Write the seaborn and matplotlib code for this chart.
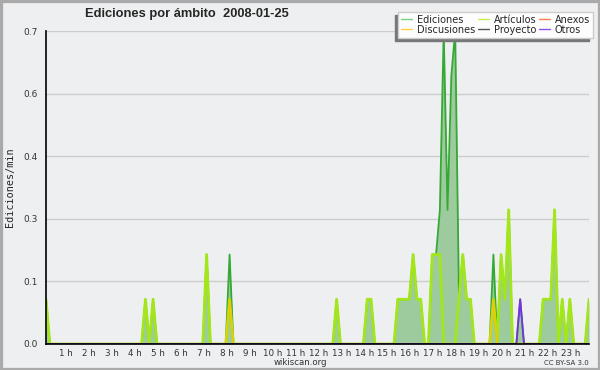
import numpy as np
import pandas as pd
import matplotlib
matplotlib.use('Agg')
import matplotlib.pyplot as plt
import seaborn as sns
from matplotlib.lines import Line2D
from matplotlib.patches import Rectangle
from matplotlib.ticker import FixedLocator, MultipleLocator, AutoMinorLocator

# tramos de 10 minutos, el primero a las 00:08, el ultimo a las 23:48
slot_minutes = 8 + 10 * np.arange(143)

# ediciones/min por tramo (solo los tramos distintos de cero)
ediciones = {0: 0.1, 26: 0.1, 28: 0.1, 42: 0.2, 48: 0.2, 76: 0.1, 84: 0.1, 85: 0.1,
             92: 0.1, 93: 0.1, 94: 0.1, 95: 0.1, 96: 0.2, 97: 0.1, 98: 0.1,
             101: 0.2, 102: 0.2, 103: 0.3, 104: 0.7, 105: 0.3, 106: 0.6, 107: 0.7,
             108: 0.1, 109: 0.2, 110: 0.1, 111: 0.1,
             117: 0.2, 119: 0.2, 120: 0.1, 121: 0.3, 124: 0.1,
             130: 0.1, 131: 0.1, 132: 0.1, 133: 0.3, 135: 0.1, 137: 0.1, 142: 0.1}
articulos = {0: 0.1, 26: 0.1, 28: 0.1, 42: 0.2, 48: 0.1, 76: 0.1, 84: 0.1, 85: 0.1,
             92: 0.1, 93: 0.1, 94: 0.1, 95: 0.1, 96: 0.2, 97: 0.1, 98: 0.1,
             101: 0.2, 102: 0.2, 103: 0.2,
             108: 0.1, 109: 0.2, 110: 0.1, 111: 0.1,
             117: 0.1, 119: 0.2, 120: 0.1, 121: 0.3,
             130: 0.1, 131: 0.1, 132: 0.1, 133: 0.3, 135: 0.1, 137: 0.1, 142: 0.1}
anexos = {}
discusiones = {48: 0.1, 117: 0.1}
proyecto = {}
otros = {124: 0.1}

hour_ticks = list(range(1, 24))
hour_labels = [f"{h} h" for h in hour_ticks]

series = {'Ediciones': ediciones, 'Artículos': articulos, 'Anexos': anexos,
          'Discusiones': discusiones, 'Proyecto': proyecto, 'Otros': otros}
colors = {'Ediciones': '#35a835', 'Artículos': '#a3e61a', 'Anexos': '#ff7a45',
          'Discusiones': '#f2c600', 'Proyecto': '#555555', 'Otros': '#7a2ee6'}
legend_colors = {'Ediciones': '#7fd07f', 'Artículos': '#c8ee50', 'Anexos': '#ff8050',
                 'Discusiones': '#ffd040', 'Proyecto': '#555555', 'Otros': '#9050f0'}

rows = []
for name, vals in series.items():
    for k, m in enumerate(slot_minutes):
        rows.append({'hora': m / 60, 'valor': vals.get(k, 0.0), 'ambito': name})
df = pd.DataFrame(rows)

sns.set_style('white')
plt.rcParams['font.family'] = ['DejaVu Sans']
bg = '#eeeff0'

fig, ax = plt.subplots(figsize=(6, 3.7), dpi=100)
fig.patch.set_facecolor(bg)
ax.set_facecolor(bg)
fig.subplots_adjust(left=0.0767, right=0.9817, top=0.9162, bottom=0.0703)

# area de ediciones totales
ed = df[df.ambito == 'Ediciones']
ax.fill_between(ed.hora, ed.valor, color='#9ecb9e', lw=0, zorder=1)

widths = {'Ediciones': 1.3, 'Proyecto': 1.0, 'Anexos': 1.0, 'Artículos': 2.0,
          'Discusiones': 1.2, 'Otros': 1.3}
for i, name in enumerate(['Ediciones', 'Proyecto', 'Anexos', 'Artículos', 'Discusiones', 'Otros']):
    sns.lineplot(data=df[df.ambito == name], x='hora', y='valor', color=colors[name],
                 lw=widths[name], estimator=None, ax=ax, legend=False, zorder=2 + i * 0.1)

ax.set_xlim(slot_minutes[0] / 60, slot_minutes[-1] / 60)
ax.set_ylim(0, 0.7)

ax.xaxis.set_major_locator(FixedLocator(hour_ticks))
ax.set_xticks(hour_ticks, hour_labels)
ax.xaxis.set_minor_locator(MultipleLocator(0.2))
yt = np.linspace(0, 0.7, 6)
ax.set_yticks(yt, [f"{v:.1f}" for v in yt])
ax.yaxis.set_minor_locator(AutoMinorLocator(4))
ax.tick_params(axis='x', which='both', direction='out', length=3, width=1, pad=0.5,
               labelsize=6.3, colors='black', labelcolor='#333333')
ax.tick_params(axis='y', which='major', direction='out', length=5, width=1, pad=1,
               labelsize=6.5, labelcolor='#333333')
ax.tick_params(axis='y', which='minor', direction='out', length=3, width=1)
ax.yaxis.grid(True, color='#cccccc', lw=1)
ax.set_axisbelow(True)
for s in ['top', 'right']:
    ax.spines[s].set_visible(False)
for s in ['left', 'bottom']:
    ax.spines[s].set_color('black')
    ax.spines[s].set_linewidth(1.2)
    ax.spines[s].set_zorder(5)

ax.set_xlabel('')
ax.set_ylabel('Ediciones/min', family='DejaVu Sans Mono', fontsize=7.3, labelpad=6)

fig.text(0.142, 0.962, 'Ediciones por ámbito  2008-01-25', fontsize=9.3, fontweight='bold',
         family='Liberation Sans', va='center', ha='left')
fig.text(0.5, 0.02, 'wikiscan.org', fontsize=6.2, color='#333333', ha='center', va='center')
fig.text(0.982, 0.019, 'CC BY-SA 3.0', fontsize=5, color='#333333', ha='right', va='center')

order = ['Ediciones', 'Discusiones', 'Artículos', 'Proyecto', 'Anexos', 'Otros']
handles = [Line2D([], [], color=legend_colors[n], lw=1) for n in order]
leg = fig.legend(handles, order, loc='upper right', bbox_to_anchor=(0.988, 0.968), ncol=3,
                 fontsize=7, handlelength=1.1, handletextpad=0.5, columnspacing=0.3,
                 labelspacing=0.0, borderpad=0.3, borderaxespad=0, fancybox=False,
                 shadow={'ox': -2.5, 'oy': -2.5, 'color': '#777777', 'alpha': 1})
leg.get_frame().set_facecolor('#fdfdfd')
leg.get_frame().set_edgecolor('#cccccc')
leg.get_frame().set_alpha(1)

fig.patches.append(Rectangle((0, 0), 1, 1, transform=fig.transFigure, fill=False,
                             edgecolor='#aaaaaa', lw=3.8))

fig.savefig('out.png', dpi=100, facecolor=bg)
